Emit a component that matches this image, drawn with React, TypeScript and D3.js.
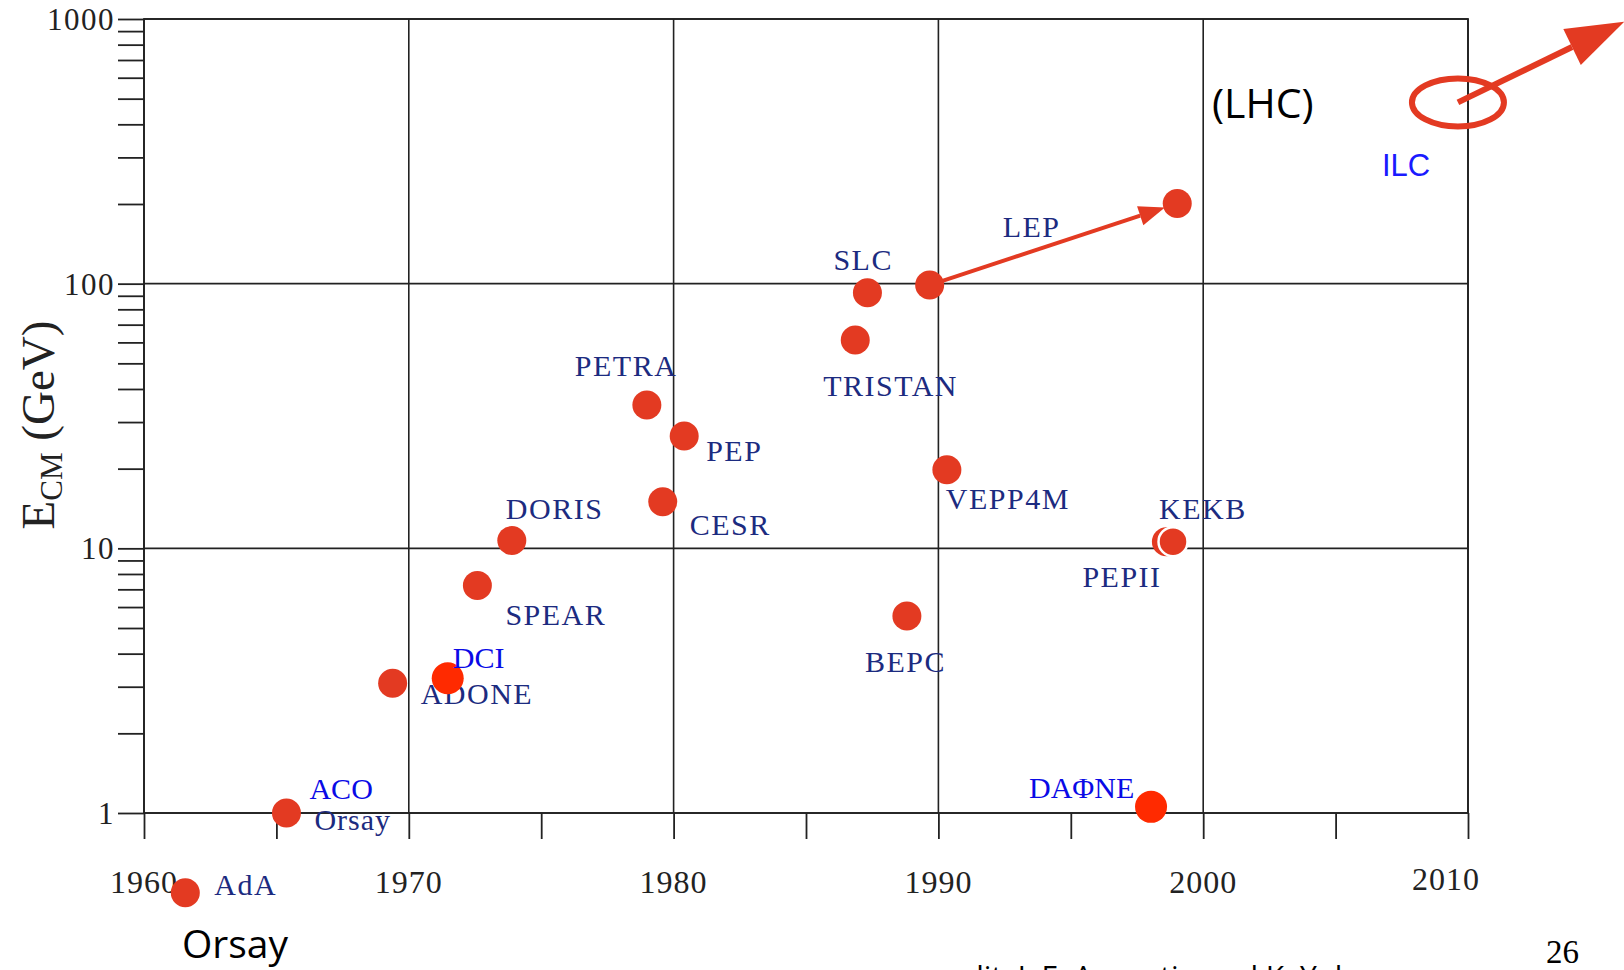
import React, { useEffect, useRef } from 'react';
import * as d3 from 'd3';

// Colisionadores: nombre, año de arranque y energía en el centro de masas (GeV)
const names = ['AdA', 'ACO', 'ADONE', 'DCI', 'SPEAR', 'DORIS', 'PETRA', 'PEP', 'CESR', 'TRISTAN', 'SLC', 'LEP', 'VEPP4M', 'BEPC', 'PEPII', 'KEKB', 'DAΦNE'];
const years = [1961.56, 1965.38, 1969.39, 1971.47, 1972.59, 1973.89, 1978.99, 1980.4, 1979.59, 1986.86, 1987.32, 1989.67, 1990.32, 1988.81, 1998.61, 1998.86, 1998.03];
const energies = [0.5, 1.0, 3.09, 3.23, 7.23, 10.7, 34.8, 26.6, 15.0, 61.3, 92.4, 98.8, 19.8, 5.55, 10.6, 10.6, 1.055];

// LEP llega hasta 200 GeV
const lepUpgradeYear = 1999.02;
const lepUpgradeEnergy = 201;

// ILC (elipse) y la flecha hacia arriba
const ilcYear = 2009.62;
const ilcEnergy = 484;
const ilcArrowYear = 2015.9;
const ilcArrowEnergy = 977;

// Ejes
const yearTicks = [1960, 1965, 1970, 1975, 1980, 1985, 1990, 1995, 2000, 2005, 2010];
const yearLabels = [1960, 1970, 1980, 1990, 2000, 2010];
const energyLabels = [1, 10, 100, 1000];

// Colores y desplazamientos de etiquetas (layout, no datos)
const NAVY = '#1c2b80';
const BLUE = '#0a0ae6';
const RED = '#e33a22';
const BRIGHT_RED = '#ff2a00';
const brightNames = ['DCI', 'DAΦNE'];
const blueNames = ['ACO', 'DCI', 'DAΦNE'];
const labelOffset: Record<string, [number, number]> = {
  AdA: [29, 2],
  ACO: [23, -14],
  ADONE: [28, 21],
  DCI: [5, -10],
  SPEAR: [28, 39],
  DORIS: [-6, -22],
  PETRA: [-72, -29],
  PEP: [22, 25],
  CESR: [27, 33],
  TRISTAN: [-32, 56],
  SLC: [-34, -23],
  LEP: [73, -48],
  VEPP4M: [-1, 39],
  BEPC: [-42, 56],
  PEPII: [-84, 45],
  KEKB: [-14, -23],
  'DAΦNE': [-122, -9],
};

const App: React.FC = () => {
  const ref = useRef<SVGSVGElement>(null);

  useEffect(() => {
    const svg = d3.select(ref.current);
    svg.selectAll('*').remove();

    const width = 1624;
    const height = 970;
    const left = 144;
    const right = 1468;
    const top = 19;
    const bottom = 813;
    const serif = '"Liberation Serif", "Times New Roman", serif';
    const sans = '"Open Sans", sans-serif';

    svg.attr('width', width).attr('height', height);

    const x = d3.scaleLinear().domain([1960, 2010]).range([left, right]);
    const y = d3.scaleLog().domain([1, 1000]).range([bottom, top]);

    // Rejilla y marco
    const grid = svg.append('g').attr('stroke', '#222').attr('stroke-width', 1.6);
    energyLabels.forEach((e) => {
      grid.append('line').attr('x1', left).attr('x2', right).attr('y1', y(e)).attr('y2', y(e));
    });
    yearLabels.forEach((yr) => {
      grid.append('line').attr('x1', x(yr)).attr('x2', x(yr)).attr('y1', top).attr('y2', bottom);
    });

    // Eje Y (log) con marcas menores hacia fuera
    const yTicks = y.ticks();
    svg
      .append('g')
      .attr('transform', `translate(${left},0)`)
      .call(d3.axisLeft(y).tickValues(yTicks).tickSize(26).tickFormat(() => ''))
      .call((g) => g.select('.domain').remove())
      .selectAll('line')
      .attr('stroke', '#222')
      .attr('stroke-width', 1.8);

    svg
      .append('g')
      .selectAll('text')
      .data(energyLabels)
      .enter()
      .append('text')
      .attr('x', left - 29)
      .attr('y', (d) => y(d) + 11)
      .attr('text-anchor', 'end')
      .style('font-family', serif)
      .style('font-size', '31px')
      .style('letter-spacing', '1.5px')
      .attr('fill', '#222')
      .text((d) => String(d));

    // Eje X
    svg
      .append('g')
      .attr('transform', `translate(0,${bottom})`)
      .call(d3.axisBottom(x).tickValues(yearTicks).tickSize(26).tickFormat(() => ''))
      .call((g) => g.select('.domain').remove())
      .selectAll('line')
      .attr('stroke', '#222')
      .attr('stroke-width', 1.8);

    svg
      .append('g')
      .selectAll('text')
      .data(yearLabels)
      .enter()
      .append('text')
      .attr('x', (d) => x(d) - (d === 2010 ? 22 : 0))
      .attr('y', (d) => (d === 2010 ? 890 : 893))
      .attr('text-anchor', 'middle')
      .style('font-family', serif)
      .style('font-size', '32px')
      .style('letter-spacing', '1px')
      .attr('fill', '#222')
      .text((d) => String(d));

    // Marco exterior
    svg
      .append('rect')
      .attr('x', left)
      .attr('y', top)
      .attr('width', right - left)
      .attr('height', bottom - top)
      .attr('fill', 'none')
      .attr('stroke', '#222')
      .attr('stroke-width', 1.8);

    // Título eje Y
    const title = svg
      .append('text')
      .attr('transform', 'translate(54,425) rotate(-90)')
      .attr('text-anchor', 'middle')
      .style('font-family', serif)
      .style('font-size', '47px')
      .attr('fill', '#222');
    title.append('tspan').text('E');
    title.append('tspan').attr('font-size', '31px').attr('dy', 8).text('CM');
    title.append('tspan').attr('dy', -8).text(' (GeV)');

    const pts = names.map((n, i) => ({ name: n, year: years[i], energy: energies[i] }));

    // Etiquetas azul oscuro (debajo de los puntos)
    svg
      .append('g')
      .selectAll('text')
      .data(pts.filter((d) => !blueNames.includes(d.name)))
      .enter()
      .append('text')
      .attr('x', (d) => x(d.year) + labelOffset[d.name][0])
      .attr('y', (d) => y(d.energy) + labelOffset[d.name][1])
      .style('font-family', serif)
      .style('font-size', '30px')
      .style('letter-spacing', '1.5px')
      .attr('fill', NAVY)
      .text((d) => d.name);

    // "Orsay" bajo ACO
    svg
      .append('text')
      .attr('x', x(years[1]) + 28)
      .attr('y', y(energies[1]) + 17)
      .style('font-family', serif)
      .style('font-size', '30px')
      .style('letter-spacing', '1px')
      .attr('fill', NAVY)
      .text('Orsay');

    // Flecha LEP
    const lx1 = x(years[11]);
    const ly1 = y(energies[11]);
    const lx2 = x(lepUpgradeYear);
    const ly2 = y(lepUpgradeEnergy);
    const ldx = lx2 - lx1;
    const ldy = ly2 - ly1;
    const llen = Math.hypot(ldx, ldy);
    const lux = ldx / llen;
    const luy = ldy / llen;
    const ltipX = lx2 - lux * 13;
    const ltipY = ly2 - luy * 13;
    const lbaseX = ltipX - lux * 26;
    const lbaseY = ltipY - luy * 26;
    svg
      .append('line')
      .attr('x1', lx1)
      .attr('y1', ly1)
      .attr('x2', lbaseX)
      .attr('y2', lbaseY)
      .attr('stroke', RED)
      .attr('stroke-width', 4);
    svg
      .append('path')
      .attr(
        'd',
        `M${ltipX},${ltipY}L${lbaseX - luy * 10},${lbaseY + lux * 10}L${lbaseX + luy * 10},${lbaseY - lux * 10}Z`
      )
      .attr('fill', RED);

    // Puntos
    svg
      .append('g')
      .selectAll('circle')
      .data(pts)
      .enter()
      .append('circle')
      .attr('cx', (d) => x(d.year))
      .attr('cy', (d) => y(d.energy))
      .attr('r', (d) => (brightNames.includes(d.name) ? 16 : 14.5))
      .attr('fill', (d) => (brightNames.includes(d.name) ? BRIGHT_RED : RED))
      .attr('stroke', (d) => (d.name === 'KEKB' ? '#fff' : 'none'))
      .attr('stroke-width', 2.5);

    svg
      .append('circle')
      .attr('cx', lx2)
      .attr('cy', ly2)
      .attr('r', 14.5)
      .attr('fill', RED);

    // Etiquetas azules
    svg
      .append('g')
      .selectAll('text')
      .data(pts.filter((d) => blueNames.includes(d.name)))
      .enter()
      .append('text')
      .attr('x', (d) => x(d.year) + labelOffset[d.name][0])
      .attr('y', (d) => y(d.energy) + labelOffset[d.name][1])
      .style('font-family', serif)
      .style('font-size', '30px')
      .attr('fill', BLUE)
      .text((d) => d.name);

    // ILC: elipse y flecha
    const ix = x(ilcYear);
    const iy = y(ilcEnergy);
    const ax = x(ilcArrowYear);
    const ay = y(ilcArrowEnergy);
    const idx = ax - ix;
    const idy = ay - iy;
    const ilen = Math.hypot(idx, idy);
    const iux = idx / ilen;
    const iuy = idy / ilen;
    const ibx = ax - iux * 58;
    const iby = ay - iuy * 58;
    svg
      .append('ellipse')
      .attr('cx', ix)
      .attr('cy', iy)
      .attr('rx', 46)
      .attr('ry', 24)
      .attr('fill', 'none')
      .attr('stroke', RED)
      .attr('stroke-width', 6);
    svg
      .append('line')
      .attr('x1', ix)
      .attr('y1', iy)
      .attr('x2', ibx)
      .attr('y2', iby)
      .attr('stroke', RED)
      .attr('stroke-width', 6);
    svg
      .append('path')
      .attr('d', `M${ax},${ay}L${ibx - iuy * 20},${iby + iux * 20}L${ibx + iuy * 20},${iby - iux * 20}Z`)
      .attr('fill', RED);

    svg
      .append('text')
      .attr('x', ix - 76)
      .attr('y', iy + 74)
      .style('font-family', '"Liberation Sans", Arial, sans-serif')
      .style('font-size', '31px')
      .attr('fill', '#1a1aff')
      .text('ILC');

    svg
      .append('text')
      .attr('x', 1212)
      .attr('y', 118)
      .style('font-family', sans)
      .style('font-size', '41px')
      .attr('fill', '#000')
      .text('(LHC)');

    // Textos de la diapositiva
    svg
      .append('text')
      .attr('x', 182)
      .attr('y', 958)
      .style('font-family', sans)
      .style('font-size', '39px')
      .attr('fill', '#000')
      .text('Orsay');

    // El crédito queda cortado por el borde inferior, como en la diapositiva
    svg
      .append('text')
      .attr('x', 922)
      .attr('y', 987)
      .style('font-family', sans)
      .style('font-size', '30px')
      .attr('fill', '#000')
      .text('credit: J. E. Augustin and K. Yokoya');

    svg
      .append('text')
      .attr('x', 1546)
      .attr('y', 963)
      .style('font-family', serif)
      .style('font-size', '33px')
      .attr('fill', '#000')
      .text('26');
  }, []);

  return (
    <div style={{ position: 'absolute', left: 0, top: 0, width: 1624, height: 970, overflow: 'hidden' }}>
      <svg ref={ref} style={{ display: 'block' }}></svg>
    </div>
  );
};

export default App;
